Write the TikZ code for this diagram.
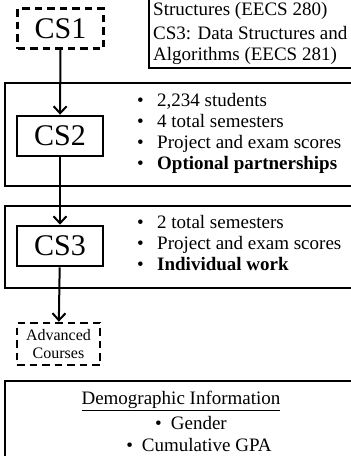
\documentclass[tikz,border=0pt]{standalone}
\usepackage{fontspec}
\setmainfont{Liberation Serif}
\usetikzlibrary{arrows.meta}
\begin{document}
\begin{tikzpicture}[x=1pt,y=-1pt,
  csbox/.style={draw, line width=2.6pt, minimum width=86pt, minimum height=40pt, inner sep=0pt, font=\fontsize{30}{30}\selectfont},
  dbox/.style={csbox, dash pattern=on 7.5pt off 5pt},
  bigbox/.style={draw, line width=2.8pt, inner sep=0pt},
  flow/.style={line width=2pt, -{Straight Barb[length=7pt,width=13pt,line width=2pt]}},
  bul/.style={anchor=north west, inner sep=0pt, align=left, font=\fontsize{19}{21}\selectfont},
  txt/.style={inner sep=0pt, font=\fontsize{19}{22}\selectfont}
]
\useasboundingbox (0,0) rectangle (351,456);
\clip (0,0) rectangle (351,456);
% group boxes
\node[bigbox, minimum width=220pt, minimum height=100pt] (info) at (259,18) {};
\node[bigbox, minimum width=354pt, minimum height=103pt] (g1) at (182,134.5) {};
\node[bigbox, minimum width=354pt, minimum height=82pt] (g2) at (182,247) {};
\node[bigbox, minimum width=354pt, minimum height=100pt] (g3) at (182,431) {};
% info text
\node[txt, anchor=west] (i1) at (153,11) {Structures (EECS 280)};
\node[txt, anchor=west] (i2) at (153,33) {CS3: Data Structures and};
\node[txt, anchor=west] (i3) at (153,56) {Algorithms (EECS 281)};
% course boxes
\node[dbox] (cs1) at (60.5,28.5) {CS1};
\node[csbox] (cs2) at (60,136) {CS2};
\node[csbox] (cs3) at (60,246) {CS3};
\node[dbox, font=\fontsize{16}{18.5}\selectfont, align=center, minimum width=83pt, minimum height=42pt] (adv) at (58.5,344) {Advanced\\Courses};
% arrows
\draw[flow] (cs1) -- (cs2);
\draw[flow] (cs2) -- (cs3);
\draw[flow] (cs3) -- (adv);
% bullet lists
\node[bul] (l1) at (137,93) {\makebox[20pt][l]{•}2,234 students\\
\makebox[20pt][l]{•}4 total semesters\\
\makebox[20pt][l]{•}Project and exam scores\\
\makebox[20pt][l]{•}\textbf{Optional partnerships}};
\node[bul] (l2) at (137,215) {\makebox[20pt][l]{•}2 total semesters\\
\makebox[20pt][l]{•}Project and exam scores\\
\makebox[20pt][l]{•}\textbf{Individual work}};
% demographic
\node[txt] (d0) at (181,401) {\underline{Demographic Information}};
\node[txt] (d1) at (191,423) {•\hspace{9pt}Gender};
\node[txt] (d2) at (199,445) {•\hspace{9pt}Cumulative GPA};
\end{tikzpicture}
\end{document}
